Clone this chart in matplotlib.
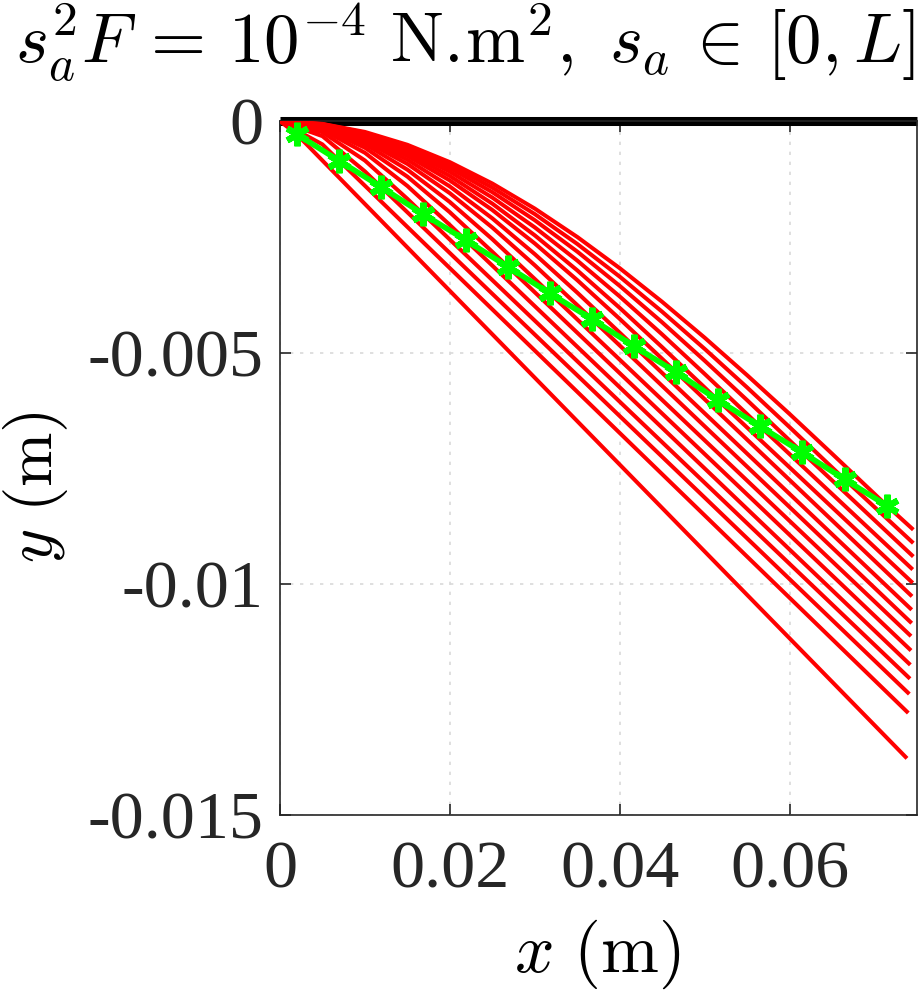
import numpy as np
import matplotlib
matplotlib.use("Agg")
import matplotlib.pyplot as plt

# beam length and axis ranges
L = 0.075
x_ticks = [0, 0.02, 0.04, 0.06]
x_tick_labels = ['0', '0.02', '0.04', '0.06']
y_ticks = [0, -0.005, -0.01, -0.015]
y_tick_labels = ['0', '-0.005', '-0.01', '-0.015']

# load application points (green markers)
load_x = [0.00196, 0.00698, 0.01188, 0.01686, 0.02185, 0.02686, 0.03176, 0.03674,
          0.04165, 0.04667, 0.05156, 0.05647, 0.06149, 0.06647, 0.07145]
load_y = [-0.000281, -0.000858, -0.00142, -0.00201, -0.00257, -0.00315, -0.00372, -0.00428,
          -0.00486, -0.00543, -0.00603, -0.00659, -0.00716, -0.00774, -0.00831]

# tip of each deformed beam (same order as the load points)
tip_x = [0.07365, 0.07380, 0.07392, 0.07400, 0.07404, 0.07412, 0.07412, 0.07420,
         0.07420, 0.07424, 0.07432, 0.07432, 0.07439, 0.07439, 0.07439]
tip_y = [-0.01374, -0.01276, -0.01235, -0.01202, -0.01172, -0.01141, -0.01110, -0.01082,
         -0.01053, -0.01024, -0.00995, -0.00966, -0.00938, -0.00909, -0.00880]

# deflection before the load point, sampled every 5 mm of x (x = 0.005, 0.010, ...)
grid_step = 0.005
curve_y = [
    [],
    [-0.000503],
    [-0.000324, -0.001086],
    [-0.000239, -0.000851, -0.001679],
    [-0.000186, -0.000684, -0.001401, -0.002244],
    [-0.000154, -0.000574, -0.001199, -0.001969, -0.002824],
    [-0.000131, -0.000495, -0.001049, -0.001748, -0.002551, -0.003411],
    [-0.000114, -0.000433, -0.000924, -0.001557, -0.002299, -0.003115, -0.003976],
    [-0.000101, -0.000387, -0.000832, -0.001412, -0.002101, -0.002874, -0.003706, -0.004572],
    [-0.000090, -0.000347, -0.000751, -0.001282, -0.001920, -0.002644, -0.003436, -0.004274,
     -0.005138],
    [-0.000082, -0.000318, -0.000691, -0.001185, -0.001783, -0.002468, -0.003225, -0.004036,
     -0.004886, -0.005756],
    [-0.000075, -0.000292, -0.000636, -0.001093, -0.001652, -0.002296, -0.003013, -0.003789,
     -0.004610, -0.005463, -0.006333],
    [-0.000069, -0.000269, -0.000587, -0.001013, -0.001535, -0.002141, -0.002819, -0.003560,
     -0.004349, -0.005177, -0.006031, -0.006900],
    [-0.000064, -0.000250, -0.000547, -0.000946, -0.001437, -0.002009, -0.002654, -0.003361,
     -0.004120, -0.004922, -0.005756, -0.006614, -0.007484],
    [-0.000060, -0.000233, -0.000511, -0.000886, -0.001348, -0.001890, -0.002503, -0.003178,
     -0.003906, -0.004680, -0.005491, -0.006329, -0.007188, -0.008057],
]

plt.rcParams['font.family'] = ['Liberation Serif', 'DejaVu Serif']
plt.rcParams['mathtext.fontset'] = 'cm'

fig = plt.figure(figsize=(9.21, 9.93), dpi=100)
ax = fig.add_axes([0.304, 0.179, 0.6917, 0.699])

# undeformed beam
ax.plot([0, L], [0, 0], color='black', lw=6.5, clip_on=False, zorder=2, solid_capstyle='butt')

# deformed beams
for i in range(len(load_x)):
    xs = [0.0] + [grid_step * (j + 1) for j in range(len(curve_y[i]))] + [load_x[i], tip_x[i]]
    ys = [0.0] + curve_y[i] + [load_y[i], tip_y[i]]
    ax.plot(xs, ys, color=(1, 0, 0), lw=2.9, zorder=3)

# load points
ax.plot(load_x, load_y, color=(0, 1, 0), lw=4, marker=(6, 2, 0), markersize=17,
        markeredgewidth=4.5, zorder=4)

ax.set_xlim(0, L)
ax.set_ylim(-0.015, 0)
ax.set_xticks(x_ticks)
ax.set_xticklabels(x_tick_labels)
ax.set_yticks(y_ticks)
ax.set_yticklabels(y_tick_labels)
ax.grid(True, linestyle=(0, (2, 4)), color='0.85', lw=1.2)
ax.set_axisbelow(True)

for sp in ax.spines.values():
    sp.set_color('0.15')
    sp.set_linewidth(1.2)
ax.tick_params(direction='in', length=8, width=1.2, color='0.15', labelcolor='0.15',
               labelsize=49, top=True, right=True)
ax.tick_params(axis='x', pad=18)
ax.tick_params(axis='y', pad=12)

fig.text(0.505, 1 - 64 / 993, r'$s_a^2F\,=\,10^{-4}\ \mathrm{N.\!m}^2,\ s_a\,\in\,[0,L]$',
         fontsize=51, ha='center', va='baseline')
ax.set_xlabel(r'$x\ (\mathrm{m})$', fontsize=50)
ax.set_ylabel(r'$y\ (\mathrm{m})$', fontsize=47)
ax.xaxis.set_label_coords(0.498, -0.148)
ax.yaxis.set_label_coords(-0.33, 0.473)

fig.savefig('out.png', dpi=100)
